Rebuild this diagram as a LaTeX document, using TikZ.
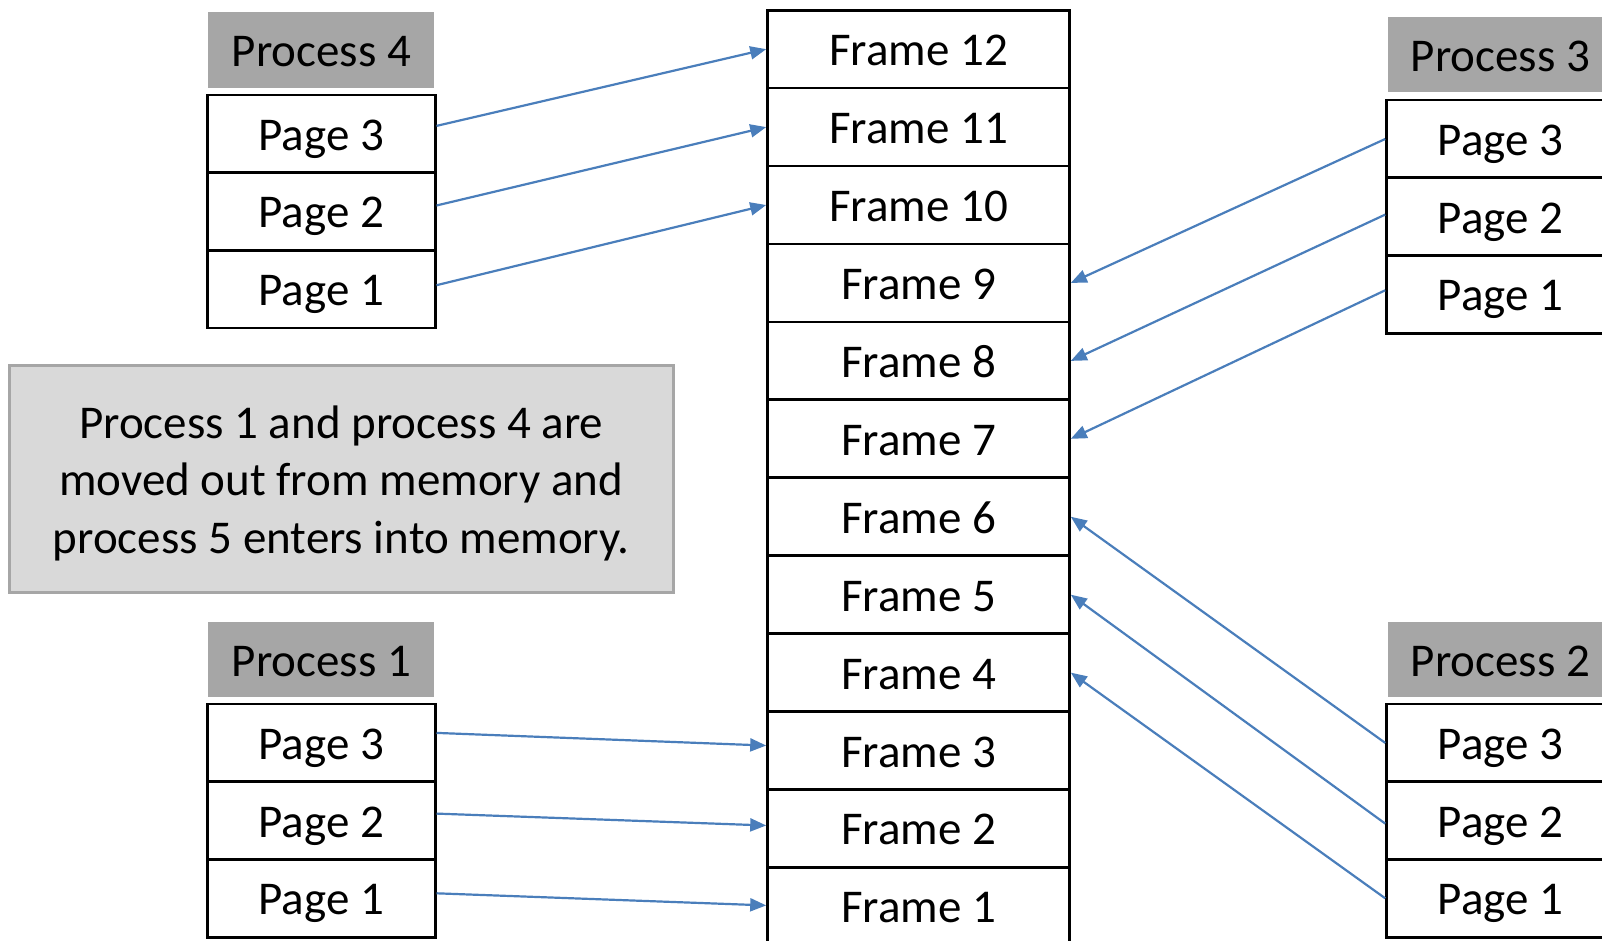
\documentclass[tikz,border=0pt]{standalone}
\usepackage{fontspec}
\setmainfont{Carlito}
\usetikzlibrary{arrows.meta}
\definecolor{hdrgray}{HTML}{A6A6A6}
\definecolor{notegray}{HTML}{D9D9D9}
\definecolor{linkblue}{HTML}{4A7EBB}

\begin{document}
\begin{tikzpicture}[x=1pt,y=-1pt,
  every node/.style={font=\fontsize{47}{57.7}\selectfont, inner sep=0pt},
  cell/.style={draw=black, line width=2.6pt, fill=white, minimum height=77.8pt,
               text height=33pt, text depth=0pt},
  frm/.style={cell, minimum width=302pt},
  pg/.style={cell, minimum width=227.8pt},
  hdr/.style={fill=hdrgray, minimum width=225.8pt, minimum height=75.6pt,
              text height=33pt, text depth=0pt},
  note/.style={fill=notegray, draw=hdrgray, line width=3pt, minimum width=664pt,
               minimum height=226.8pt},
  notetext/.style={align=center},
  link/.style={draw=linkblue, line width=2.2pt, -{Triangle[length=16pt,width=13pt]}}
]
\useasboundingbox (0,0) rectangle (1602,941);
\clip (0,0) rectangle (1602,941);

% memory frames, Frame 12 on top
\foreach \i in {1,...,12}
  \node[frm] (f\i) at (918.5,{10.2+(12-\i)*77.93+38.97}) {Frame \i};

% process 4 (top left)
\node[hdr] (h4) at (321.3,50.1) {Process 4};
\node[pg] (p4c) at (321.3,133.9) {Page 3};
\node[pg] (p4b) at (321.3,211.5) {Page 2};
\node[pg] (p4a) at (321.3,289.2) {Page 1};

% process 1 (bottom left)
\node[hdr] (h1) at (321.3,659.5) {Process 1};
\node[pg] (p1c) at (321.3,742.9) {Page 3};
\node[pg] (p1b) at (321.3,820.6) {Page 2};
\node[pg] (p1a) at (321.3,898.3) {Page 1};

% process 3 (top right)
\node[hdr] (h3) at (1500.4,54.7) {Process 3};
\node[pg] (p3c) at (1500.4,139) {Page 3};
\node[pg] (p3b) at (1500.4,216.6) {Page 2};
\node[pg] (p3a) at (1500.4,294.3) {Page 1};

% process 2 (bottom right)
\node[hdr] (h2) at (1500.4,659.5) {Process 2};
\node[pg] (p2c) at (1500.4,742.9) {Page 3};
\node[pg] (p2b) at (1500.4,820.6) {Page 2};
\node[pg] (p2a) at (1500.4,898.3) {Page 1};

% explanatory note
\node[note] (nt) at (341.25,479.2) {};
\node[notetext] (ntx) at ([yshift=-4pt]nt.center)
  {Process 1 and process 4 are\\moved out from memory and\\process 5 enters into memory.};

% page-to-frame mappings
\draw[link] ([yshift=8pt]p4c.east) -- (f12.west);
\draw[link] ([yshift=6pt]p4b.east) -- (f11.west);
\draw[link] ([yshift=4pt]p4a.east) -- (f10.west);

\draw[link] ([yshift=10pt]p1c.east) -- ([yshift=5pt]f3.west);
\draw[link] ([yshift=7pt]p1b.east) -- ([yshift=3pt]f2.west);
\draw[link] ([yshift=5pt]p1a.east) -- ([yshift=1pt]f1.west);

\draw[link] (p3c.west) -- (f9.east);
\draw[link] ([yshift=2pt]p3b.west) -- (f8.east);
\draw[link] ([yshift=4pt]p3a.west) -- (f7.east);

\draw[link] (p2c.west) -- (f6.east);
\draw[link] ([yshift=-3pt]p2b.west) -- (f5.east);
\draw[link] (p2a.west) -- (f4.east);
\end{tikzpicture}
\end{document}
